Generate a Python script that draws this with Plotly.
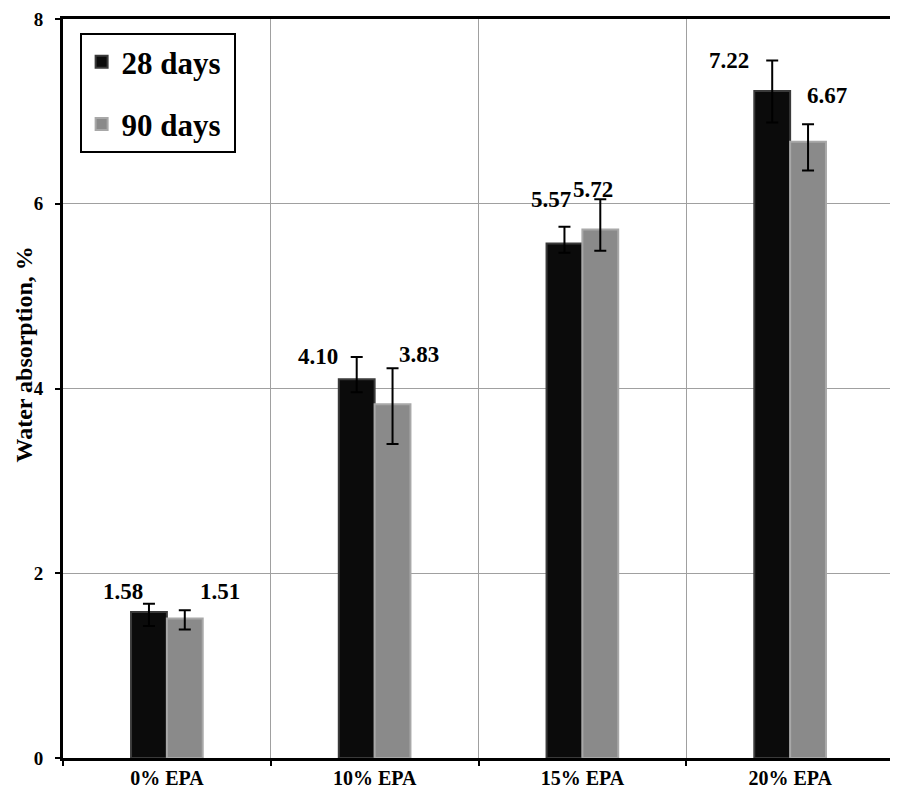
import plotly.graph_objects as go

categories = ["0% EPA", "10% EPA", "15% EPA", "20% EPA"]
days28 = [1.58, 4.10, 5.57, 7.22]
days90 = [1.51, 3.83, 5.72, 6.67]
err28_plus = [0.09, 0.24, 0.18, 0.33]
err28_minus = [0.15, 0.14, 0.10, 0.34]
err90_plus = [0.09, 0.39, 0.33, 0.19]
err90_minus = [0.12, 0.43, 0.23, 0.31]
labels28 = ["1.58", "4.10", "5.57", "7.22"]
labels90 = ["1.51", "3.83", "5.72", "6.67"]

# label offsets (pixels) relative to category centre / value
dx28 = [-44, -57, -31, -61]
dy28 = [21, 23, 44, 31]
dx90 = [53, 44, 11, 37]
dy90 = [27, 50, 40, 46]

FONT = "Liberation Serif"

fig = go.Figure()
fig.add_trace(go.Bar(
    x=categories, y=days28, name="<b>28 days</b>\u00a0", legendgroup="a",
    marker=dict(color="#0b0b0b", line=dict(color="#3a3a3a", width=2)),
    error_y=dict(type="data", symmetric=False, array=err28_plus, arrayminus=err28_minus,
                 color="black", thickness=2, width=6),
))
fig.add_trace(go.Bar(
    x=categories, y=days90, name="<b>90 days</b>\u00a0", legendgroup="b",
    marker=dict(color="#8a8a8a", line=dict(color="#a8a8a8", width=2)),
    error_y=dict(type="data", symmetric=False, array=err90_plus, arrayminus=err90_minus,
                 color="black", thickness=2, width=6),
))

annotations = []
for c, v, t, dx, dy in zip(categories, days28, labels28, dx28, dy28):
    annotations.append(dict(x=c, y=v, text=f"<b>{t}</b>", showarrow=False,
                            xshift=dx, yshift=dy, xanchor="center", yanchor="middle",
                            font=dict(family=FONT, size=23, color="black")))
for c, v, t, dx, dy in zip(categories, days90, labels90, dx90, dy90):
    annotations.append(dict(x=c, y=v, text=f"<b>{t}</b>", showarrow=False,
                            xshift=dx, yshift=dy, xanchor="center", yanchor="middle",
                            font=dict(family=FONT, size=23, color="black")))
annotations.append(dict(xref="paper", yref="paper", x=0, y=0.546, xshift=-39,
                        text="<b>Water absorption, %</b>", textangle=-90, showarrow=False,
                        xanchor="center", yanchor="middle",
                        font=dict(family=FONT, size=24, color="black")))

fig.update_layout(
    width=890, height=787,
    margin=dict(l=55, r=1, t=7, b=37),
    paper_bgcolor="white", plot_bgcolor="white",
    barmode="group", bargap=0.655, bargroupgap=0,
    font=dict(family=FONT, color="black"),
    showlegend=True,
    legend=dict(x=0.02, y=0.981, xanchor="left", yanchor="top",
                bordercolor="black", borderwidth=2, bgcolor="white",
                font=dict(family=FONT, size=31, color="black"),
                tracegroupgap=19, traceorder="grouped", itemwidth=30),
    annotations=annotations,
    xaxis=dict(type="category", tickson="boundaries", showgrid=True, gridcolor="#a0a0a0",
               gridwidth=1, showline=True, linecolor="black", linewidth=3, mirror=True,
               ticks="outside", ticklen=5, tickwidth=2, tickcolor="black",
               tickfont=dict(family=FONT, size=20, color="black"),
               tickvals=categories, ticktext=[f"<b>{c}</b>" for c in categories]),
    yaxis=dict(range=[0, 8], tickvals=[0, 2, 4, 6, 8],
               ticktext=["<b>0</b>", "<b>2</b>", "<b>4</b>", "<b>6</b>", "<b>8</b>"],
               showgrid=True, gridcolor="#a0a0a0", gridwidth=1, zeroline=False,
               showline=True, linecolor="black", linewidth=3, mirror=True,
               ticks="outside", ticklen=5, tickwidth=2, tickcolor="black",
               ticklabelstandoff=8, ticklabeloverflow="allow",
               tickfont=dict(family=FONT, size=19, color="black")),
)

fig.write_html("out.html")
